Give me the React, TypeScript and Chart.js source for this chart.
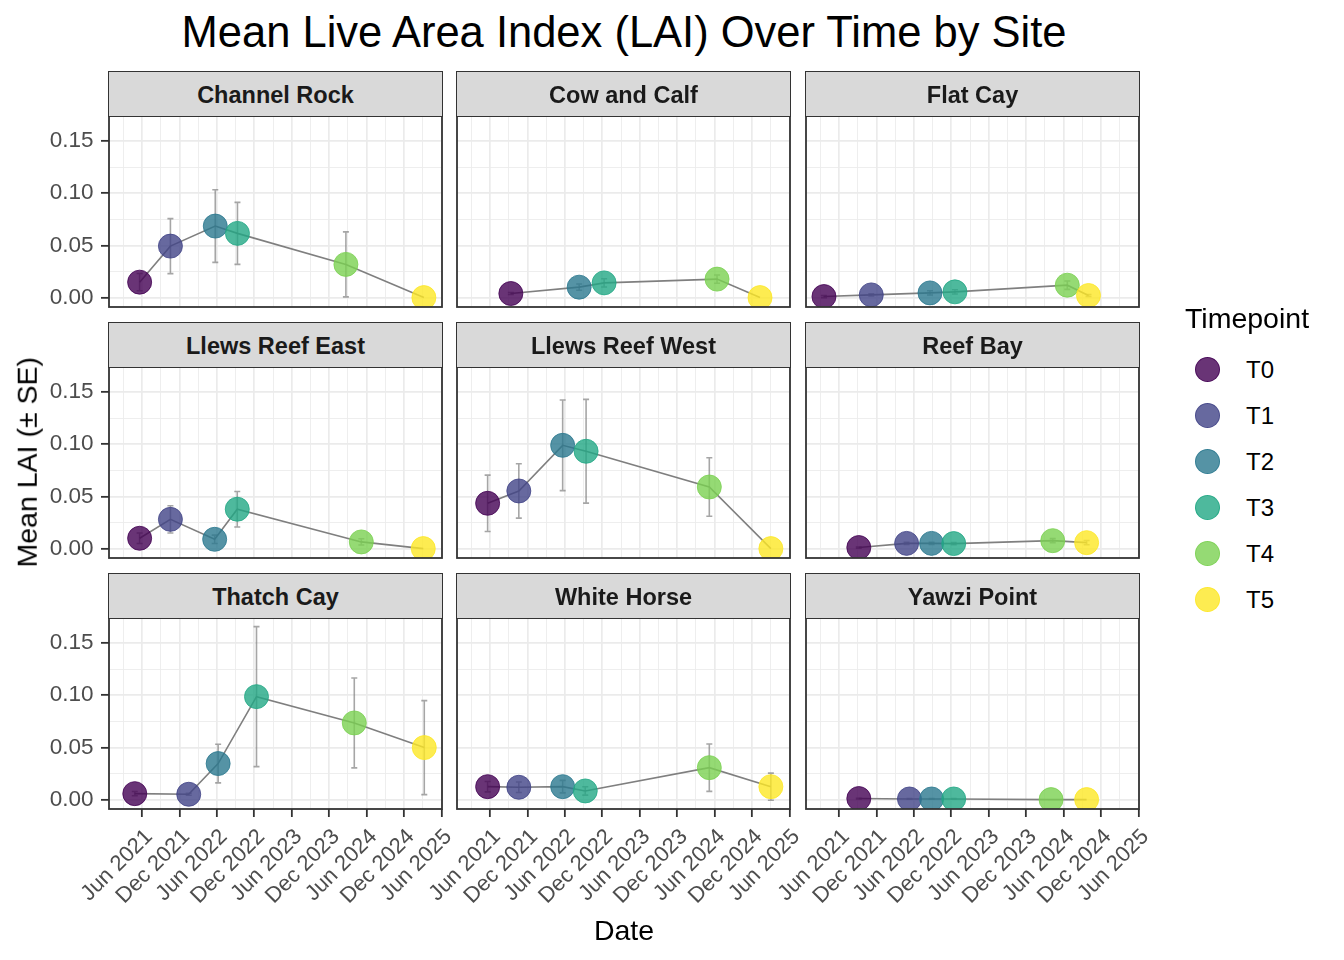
import React, { useEffect, useRef } from "react";
import { Chart, registerables } from "chart.js";
Chart.register(...registerables);

// ---------------- DATA ----------------
const titleText = "Mean Live Area Index (LAI) Over Time by Site";
const xAxisTitle = "Date";
const yAxisTitle = "Mean LAI (± SE)";
const legendTitle = "Timepoint";

const sites = [
  "Channel Rock", "Cow and Calf", "Flat Cay",
  "Llews Reef East", "Llews Reef West", "Reef Bay",
  "Thatch Cay", "White Horse", "Yawzi Point",
];
const timepoints = ["T0", "T1", "T2", "T3", "T4", "T5"];
const timepointColors = ["#440154", "#414487", "#2A788E", "#22A884", "#7AD151", "#FDE725"];

const xTickLabels = ["Jun 2021", "Dec 2021", "Jun 2022", "Dec 2022", "Jun 2023", "Dec 2023", "Jun 2024", "Dec 2024", "Jun 2025"];
const yTickValues = [0, 0.05, 0.1, 0.15];

// per site: sampling date, mean LAI, standard error for T0..T5 (null = not sampled)
const channelRockDates = ["2021-05-20", "2021-10-18", "2022-05-24", "2022-09-10", "2024-02-21", "2025-03-07"];
const channelRockMean = [0.0148, 0.0493, 0.0685, 0.0615, 0.0318, 0.0];
const channelRockSE = [0.0083, 0.0263, 0.0348, 0.0297, 0.0311, 0.0];

const cowCalfDates = ["2021-09-11", null, "2022-08-10", "2022-12-10", "2024-06-13", "2025-01-10"];
const cowCalfMean = [0.0039, null, 0.010, 0.0141, 0.0177, 0.0];
const cowCalfSE = [0.001, null, 0.003, 0.004, 0.004, 0.0];

const flatCayDates = ["2021-03-19", "2021-11-06", "2022-08-19", "2022-12-19", "2024-06-19", "2024-10-01"];
const flatCayMean = [0.001, 0.0026, 0.0045, 0.0055, 0.0119, 0.002];
const flatCaySE = [0.001, 0.001, 0.002, 0.002, 0.004, 0.001];

const llewsEastDates = ["2021-05-20", "2021-10-18", "2022-05-21", "2022-09-09", "2024-05-06", "2025-03-04"];
const llewsEastMean = [0.0099, 0.028, 0.0089, 0.0377, 0.0064, 0.0];
const llewsEastSE = [0.005, 0.013, 0.004, 0.017, 0.003, 0.0];

const llewsWestDates = ["2021-05-20", "2021-10-20", "2022-05-21", "2022-09-13", "2024-05-06", "2025-03-02"];
const llewsWestMean = [0.0434, 0.0552, 0.0989, 0.0932, 0.059, 0.0];
const llewsWestSE = [0.027, 0.026, 0.0434, 0.0497, 0.028, 0.0];

const reefBayDates = ["2021-09-06", "2022-04-26", "2022-08-27", "2022-12-13", "2024-04-09", "2024-09-22"];
const reefBayMean = [0.001, 0.005, 0.005, 0.0048, 0.0076, 0.0057];
const reefBaySE = [0.0005, 0.001, 0.001, 0.001, 0.002, 0.002];

const thatchCayDates = ["2021-04-26", "2022-01-16", "2022-06-07", "2022-12-12", "2024-04-02", "2025-03-09"];
const thatchCayMean = [0.0057, 0.0051, 0.0345, 0.0986, 0.0734, 0.0498];
const thatchCaySE = [0.002, 0.001, 0.0185, 0.067, 0.043, 0.045];

const whiteHorseDates = ["2021-05-20", "2021-10-20", "2022-05-21", "2022-09-09", "2024-05-06", "2025-03-02"];
const whiteHorseMean = [0.0124, 0.0118, 0.0124, 0.0083, 0.0306, 0.0124];
const whiteHorseSE = [0.005, 0.005, 0.006, 0.004, 0.0227, 0.013];

const yawziDates = ["2021-09-06", "2022-05-10", "2022-08-27", "2022-12-13", "2024-04-01", "2024-09-22"];
const yawziMean = [0.001, 0.0006, 0.0006, 0.0006, 0.0, 0.0];
const yawziSE = [0.0003, 0.0003, 0.0003, 0.0003, 0.0, 0.0];

const siteDates = [channelRockDates, cowCalfDates, flatCayDates, llewsEastDates, llewsWestDates, reefBayDates, thatchCayDates, whiteHorseDates, yawziDates];
const siteMeans = [channelRockMean, cowCalfMean, flatCayMean, llewsEastMean, llewsWestMean, reefBayMean, thatchCayMean, whiteHorseMean, yawziMean];
const siteSEs = [channelRockSE, cowCalfSE, flatCaySE, llewsEastSE, llewsWestSE, reefBaySE, thatchCaySE, whiteHorseSE, yawziSE];

// ---------------- helpers ----------------
const FONT = "'Liberation Sans', Arial, Helvetica, sans-serif";
const MONTHS = ["Jan", "Feb", "Mar", "Apr", "May", "Jun", "Jul", "Aug", "Sep", "Oct", "Nov", "Dec"];

function monthPos(iso: string): number {
  const [y, m, d] = iso.split("-").map(Number);
  const dim = new Date(Date.UTC(y, m, 0)).getUTCDate();
  return (y - 2021) * 12 + (m - 1) + (d - 1) / dim;
}
function labelPos(lbl: string): number {
  const [mn, yr] = lbl.split(" ");
  return (Number(yr) - 2021) * 12 + MONTHS.indexOf(mn);
}
function rgba(hex: string, a: number) {
  const n = parseInt(hex.slice(1), 16);
  return `rgba(${(n >> 16) & 255},${(n >> 8) & 255},${n & 255},${a})`;
}

const X_MIN = -0.3, X_MAX = 53.1;
const Y_MIN = -0.009, Y_MAX = 0.1739;

const xMajor = xTickLabels.map(labelPos);
const xAll = (() => {
  const s = new Set<number>();
  xMajor.forEach((v) => { s.add(v); s.add(v - 3); s.add(v + 3); });
  return Array.from(s).filter((v) => v >= X_MIN && v <= X_MAX).sort((a, b) => a - b);
})();
const yAll = (() => {
  const s: number[] = [];
  yTickValues.forEach((v) => { s.push(v); s.push(v + 0.025); s.push(v - 0.025); });
  return Array.from(new Set(s.map((v) => Math.round(v * 1000) / 1000))).filter((v) => v >= Y_MIN && v <= Y_MAX).sort((a, b) => a - b);
})();
const isXMajor = (v: number) => xMajor.some((m) => Math.abs(m - v) < 1e-6);
const isYMajor = (v: number) => yTickValues.some((m) => Math.abs(m - v) < 1e-6);

// ---------------- layout ----------------
const COLS = [109, 457, 806];
const ROWS = [116, 367, 618];
const PW = 333, PH = 191, STRIP = 45;
const LW = 100, PAD_L = 2, PAD_R = 50, PAD_T = 50, PAD_B = 24, XH = 100;

const GRID = "#EBEBEB";
const DARK = "#333333";
const TICK_TXT = "#4D4D4D";
const LINE_COL = "#7F7F7F";
const ERR_COL = "rgba(128,128,128,0.7)";

const decoPlugin = {
  id: "panelDeco",
  beforeDatasetsDraw(chart: any) {
    const { ctx, chartArea: a, scales } = chart;
    const x = scales.x, y = scales.y;
    const ds = chart.data.datasets[1];
    ctx.save();
    ctx.beginPath();
    ctx.rect(a.left, a.top, a.right - a.left, a.bottom - a.top);
    ctx.clip();
    ctx.strokeStyle = ERR_COL;
    ctx.lineWidth = 1.6;
    for (const p of ds.data) {
      if (!p.se) continue;
      const px = x.getPixelForValue(p.x);
      const y1 = y.getPixelForValue(p.y - p.se);
      const y2 = y.getPixelForValue(p.y + p.se);
      ctx.beginPath();
      ctx.moveTo(px, y1); ctx.lineTo(px, y2);
      ctx.moveTo(px - 3, y1); ctx.lineTo(px + 3, y1);
      ctx.moveTo(px - 3, y2); ctx.lineTo(px + 3, y2);
      ctx.stroke();
    }
    ctx.restore();
  },
  afterDraw(chart: any) {
    const { ctx, chartArea: a } = chart;
    ctx.save();
    ctx.strokeStyle = DARK;
    ctx.lineWidth = 1.8;
    ctx.strokeRect(a.left, a.top, a.right - a.left, a.bottom - a.top);
    ctx.restore();
  },
};

function Panel({ idx }: { idx: number }) {
  const ref = useRef<HTMLCanvasElement>(null);
  const r = Math.floor(idx / 3), c = idx % 3;
  const bottomRow = r === 2, leftCol = c === 0;
  const w = PAD_L + LW + PW + PAD_R;
  const h = PAD_T + PH + (bottomRow ? XH : 0) + PAD_B;
  const left = COLS[c] - PAD_L - LW;
  const top = ROWS[r] - PAD_T;

  useEffect(() => {
    const dates = siteDates[idx], means = siteMeans[idx], ses = siteSEs[idx];
    const pts: any[] = [];
    const bg: string[] = [], bc: string[] = [];
    timepoints.forEach((_, t) => {
      const d = dates[t];
      const m = means[t];
      if (d == null || m == null) return;
      pts.push({ x: monthPos(d), y: m, se: ses[t] ?? 0 });
      bg.push(rgba(timepointColors[t], 0.8));
      bc.push(rgba(timepointColors[t], 0.8));
    });
    const linePts = pts.map((p) => ({ x: p.x, y: p.y })).sort((a, b) => a.x - b.x);

    const chart = new Chart(ref.current as HTMLCanvasElement, {
      type: "scatter",
      data: {
        datasets: [
          {
            type: "line",
            data: linePts,
            borderColor: LINE_COL,
            borderWidth: 1.6,
            pointRadius: 0,
            pointHoverRadius: 0,
            fill: false,
            tension: 0,
            order: 2,
            clip: 0,
          } as any,
          {
            type: "scatter",
            data: pts,
            pointBackgroundColor: bg,
            pointBorderColor: bc,
            pointBorderWidth: 1,
            pointRadius: 12,
            pointHoverRadius: 12,
            order: 1,
            clip: 0,
          } as any,
        ],
      },
      options: {
        animation: false,
        responsive: false,
        maintainAspectRatio: false,
        events: [],
        layout: { padding: { left: PAD_L, right: PAD_R, top: PAD_T, bottom: PAD_B } },
        plugins: { legend: { display: false }, tooltip: { enabled: false }, title: { display: false } },
        scales: {
          x: {
            type: "linear",
            min: X_MIN,
            max: X_MAX,
            afterBuildTicks: (s: any) => { s.ticks = xAll.map((v) => ({ value: v })); },
            afterFit: (s: any) => { s.height = bottomRow ? XH : 0; },
            ticks: {
              display: bottomRow,
              autoSkip: false,
              minRotation: 45,
              maxRotation: 45,
              padding: 7,
              labelOffset: 7,
              color: TICK_TXT,
              font: { size: 22, family: FONT, lineHeight: 1.2 },
              callback: (v: any) => {
                const i = xMajor.findIndex((m) => Math.abs(m - v) < 1e-6);
                return i >= 0 ? xTickLabels[i] : "";
              },
            },
            grid: {
              color: GRID,
              lineWidth: (ctx: any) => (ctx.tick && isXMajor(ctx.tick.value) ? 1.7 : 0.85),
              drawTicks: bottomRow,
              tickLength: 8,
              tickWidth: 1.8,
              tickColor: (ctx: any) => (ctx.tick && isXMajor(ctx.tick.value) ? DARK : "rgba(0,0,0,0)"),
            },
            border: { display: false },
          },
          y: {
            type: "linear",
            min: Y_MIN,
            max: Y_MAX,
            afterBuildTicks: (s: any) => { s.ticks = yAll.map((v) => ({ value: v })); },
            afterFit: (s: any) => { s.width = LW; },
            ticks: {
              display: leftCol,
              autoSkip: false,
              padding: 7.5,
              color: TICK_TXT,
              font: { size: 22.5, family: FONT },
              callback: (v: any) => (isYMajor(v) ? Number(v).toFixed(2) : ""),
            },
            grid: {
              color: GRID,
              lineWidth: (ctx: any) => (ctx.tick && isYMajor(ctx.tick.value) ? 1.7 : 0.85),
              drawTicks: leftCol,
              tickLength: 8,
              tickWidth: 1.8,
              tickColor: (ctx: any) => (ctx.tick && isYMajor(ctx.tick.value) ? DARK : "rgba(0,0,0,0)"),
            },
            border: { display: false },
          },
        },
      } as any,
      plugins: [decoPlugin],
    });
    return () => chart.destroy();
  }, [idx]);

  return (
    <canvas
      ref={ref}
      width={w}
      height={h}
      style={{ position: "absolute", left, top, width: w, height: h }}
    />
  );
}

function Strip({ idx }: { idx: number }) {
  const r = Math.floor(idx / 3), c = idx % 3;
  return (
    <div
      style={{
        position: "absolute",
        left: COLS[c] - 0.9,
        top: ROWS[r] - STRIP,
        width: PW + 1.8,
        height: STRIP + 0.9,
        boxSizing: "border-box",
        background: "#D9D9D9",
        border: `1.8px solid ${DARK}`,
        paddingTop: 3,
        display: "flex",
        alignItems: "center",
        justifyContent: "center",
        font: `bold 23.5px ${FONT}`,
        color: "#1A1A1A",
        whiteSpace: "nowrap",
      }}
    >
      {sites[idx]}
    </div>
  );
}

export default function App() {
  const panelCenterX = (COLS[0] + COLS[2] + PW) / 2;
  const panelCenterY = (ROWS[0] + ROWS[2] + PH) / 2;
  const legendY0 = 369;
  const legendStep = 46.06;
  const AX = 28.5;
  return (
    <div
      style={{
        position: "absolute",
        left: 0,
        top: 0,
        width: 1344,
        height: 960,
        background: "#ffffff",
        overflow: "hidden",
        fontFamily: FONT,
      }}
    >
      {sites.map((_, i) => (
        <Panel key={"p" + i} idx={i} />
      ))}
      {sites.map((_, i) => (
        <Strip key={"s" + i} idx={i} />
      ))}
      <div
        style={{
          position: "absolute",
          left: panelCenterX - 600,
          width: 1200,
          top: 48.3 - 0.8465 * 43.5,
          fontSize: 43.5,
          lineHeight: "43.5px",
          textAlign: "center",
          color: "#000",
          whiteSpace: "nowrap",
        }}
      >
        {titleText}
      </div>
      <div
        style={{
          position: "absolute",
          left: panelCenterX - 200,
          width: 400,
          top: 940 - 0.8465 * AX,
          fontSize: AX,
          lineHeight: AX + "px",
          textAlign: "center",
          color: "#000",
        }}
      >
        {xAxisTitle}
      </div>
      <div
        style={{
          position: "absolute",
          left: 26.5 - 200,
          top: panelCenterY - AX / 2,
          width: 400,
          height: AX,
          fontSize: AX,
          lineHeight: AX + "px",
          textAlign: "center",
          color: "#000",
          transform: "rotate(-90deg)",
          transformOrigin: "50% 50%",
          whiteSpace: "nowrap",
        }}
      >
        {yAxisTitle}
      </div>
      <div
        style={{
          position: "absolute",
          left: 1185,
          top: 328.3 - 0.8465 * AX,
          fontSize: AX,
          lineHeight: AX + "px",
          color: "#000",
          whiteSpace: "nowrap",
        }}
      >
        {legendTitle}
      </div>
      {timepoints.map((t, i) => (
        <React.Fragment key={"l" + t}>
          <div
            style={{
              position: "absolute",
              left: 1207.3 - 12.5,
              top: legendY0 + i * legendStep - 12.5,
              width: 25,
              height: 25,
              boxSizing: "border-box",
              borderRadius: "50%",
              background: rgba(timepointColors[i], 0.8),
              border: `1px solid ${rgba(timepointColors[i], 0.8)}`,
            }}
          />
          <div
            style={{
              position: "absolute",
              left: 1246,
              top: legendY0 + i * legendStep + 9.3 - 0.8465 * 24,
              fontSize: 24,
              lineHeight: "24px",
              color: "#000",
              whiteSpace: "nowrap",
            }}
          >
            {t}
          </div>
        </React.Fragment>
      ))}
    </div>
  );
}
